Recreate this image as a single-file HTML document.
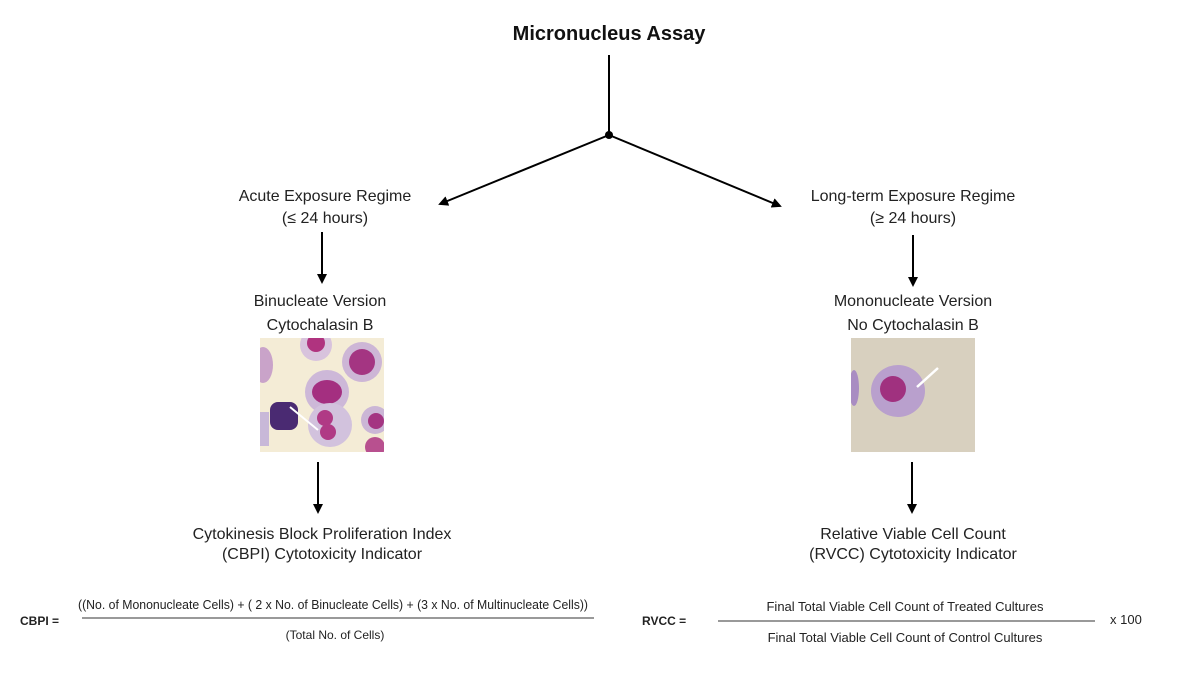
<!DOCTYPE html>
<html><head><meta charset="utf-8"><style>
html,body{margin:0;padding:0;background:#fff;}
svg{display:block;font-family:"Liberation Sans",sans-serif;}
</style></head><body>
<svg width="1200" height="675" viewBox="0 0 1200 675" xmlns="http://www.w3.org/2000/svg">
<defs>
<marker id="ah" markerWidth="10" markerHeight="10" refX="8" refY="5" orient="auto" markerUnits="userSpaceOnUse">
<path d="M0,0 L10,5 L0,10 z" fill="#000"/></marker>
<clipPath id="c1"><rect x="260" y="338" width="124" height="114"/></clipPath>
<clipPath id="c2"><rect x="851" y="338" width="124" height="114"/></clipPath>
</defs>
<text x="609" y="40" text-anchor="middle" font-size="20" font-weight="bold" fill="#111">Micronucleus Assay</text>
<line x1="609" y1="55" x2="609" y2="135" stroke="#000" stroke-width="2"/>
<circle cx="609" cy="135" r="4" fill="#000"/>
<line x1="609" y1="135" x2="440" y2="204" stroke="#000" stroke-width="2" marker-end="url(#ah)"/>
<line x1="609" y1="135" x2="780" y2="206" stroke="#000" stroke-width="2" marker-end="url(#ah)"/>
<g font-size="16" fill="#222" text-anchor="middle">
<text x="325" y="201">Acute Exposure Regime</text>
<text x="325" y="223">(≤ 24 hours)</text>
<text x="913" y="201">Long-term Exposure Regime</text>
<text x="913" y="223">(≥ 24 hours)</text>
<text x="320" y="306">Binucleate Version</text>
<text x="320" y="330">Cytochalasin B</text>
<text x="913" y="306">Mononucleate Version</text>
<text x="913" y="330">No Cytochalasin B</text>
<text x="322" y="539">Cytokinesis Block Proliferation Index</text>
<text x="322" y="559">(CBPI) Cytotoxicity Indicator</text>
<text x="913" y="539">Relative Viable Cell Count</text>
<text x="913" y="559">(RVCC) Cytotoxicity Indicator</text>
</g>
<line x1="322" y1="232" x2="322" y2="282" stroke="#000" stroke-width="2" marker-end="url(#ah)"/>
<line x1="913" y1="235" x2="913" y2="285" stroke="#000" stroke-width="2" marker-end="url(#ah)"/>
<line x1="318" y1="462" x2="318" y2="512" stroke="#000" stroke-width="2" marker-end="url(#ah)"/>
<line x1="912" y1="462" x2="912" y2="512" stroke="#000" stroke-width="2" marker-end="url(#ah)"/>
<g clip-path="url(#c1)">
<rect x="260" y="338" width="124" height="114" fill="#f4ecd6"/>
<ellipse cx="263" cy="365" rx="10" ry="18" fill="#c9a3c9"/>
<circle cx="316" cy="345" r="16" fill="#d8c3dd"/><circle cx="316" cy="343" r="9" fill="#b0337f"/>
<circle cx="362" cy="362" r="20" fill="#cdb6d6"/><circle cx="362" cy="362" r="13" fill="#a43582"/>
<circle cx="327" cy="392" r="22" fill="#cdb8d8"/><ellipse cx="327" cy="392" rx="15" ry="12" fill="#a42f80"/>
<rect x="270" y="402" width="28" height="28" rx="8" fill="#4a2a72"/>
<circle cx="330" cy="425" r="22" fill="#d2c2dd"/><circle cx="325" cy="418" r="8" fill="#b03a85"/><circle cx="328" cy="432" r="8" fill="#b03a85"/>
<circle cx="375" cy="420" r="14" fill="#cbb6d6"/><circle cx="376" cy="421" r="8" fill="#a43582"/>
<circle cx="375" cy="447" r="10" fill="#b8508f"/>
<rect x="255" y="412" width="14" height="34" fill="#c8b8d8"/>
<line x1="290" y1="407" x2="318" y2="430" stroke="#fff" stroke-width="2"/>
</g>
<g clip-path="url(#c2)">
<rect x="851" y="338" width="124" height="114" fill="#d8d0bf"/>
<ellipse cx="854" cy="388" rx="5" ry="18" fill="#a98cc2"/>
<ellipse cx="898" cy="391" rx="27" ry="26" fill="#b9a0cd"/>
<circle cx="893" cy="389" r="13" fill="#a0317f"/>
<line x1="938" y1="368" x2="917" y2="387" stroke="#fff" stroke-width="2.5"/>
</g>
<g fill="#222" font-size="12">
<text x="20" y="625" font-weight="bold" font-size="12">CBPI =</text>
<text x="78" y="609" font-size="13" textLength="510" lengthAdjust="spacingAndGlyphs">((No. of Mononucleate Cells) + ( 2 x No. of Binucleate Cells) + (3 x No. of Multinucleate Cells))</text>
<line x1="82" y1="618" x2="594" y2="618" stroke="#333" stroke-width="1"/>
<text x="335" y="639" text-anchor="middle" font-size="12">(Total No. of Cells)</text>
<text x="642" y="625" font-weight="bold" font-size="12">RVCC =</text>
<text x="905" y="611" text-anchor="middle" font-size="13">Final Total Viable Cell Count of Treated Cultures</text>
<line x1="718" y1="621" x2="1095" y2="621" stroke="#333" stroke-width="1"/>
<text x="905" y="642" text-anchor="middle" font-size="13">Final Total Viable Cell Count of Control Cultures</text>
<text x="1110" y="624" font-size="13">x 100</text>
</g>
</svg>
</body></html>
